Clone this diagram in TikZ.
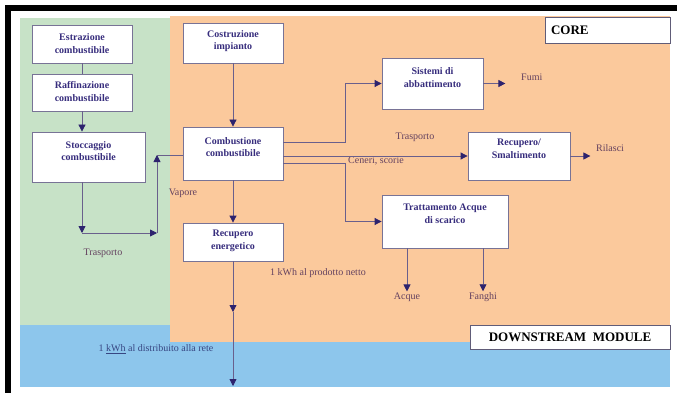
\documentclass[tikz,border=0pt]{standalone}
\usepackage{fontspec}
\setmainfont{Liberation Serif}
\usetikzlibrary{arrows.meta}
\definecolor{greenbg}{RGB}{199,226,199}
\definecolor{orangebg}{RGB}{251,201,156}
\definecolor{bluebg}{RGB}{141,198,236}
\definecolor{boxdraw}{RGB}{120,115,150}
\definecolor{linec}{RGB}{105,95,140}
\definecolor{headc}{RGB}{45,35,110}
\definecolor{boxtext}{RGB}{55,45,125}
\definecolor{labtext}{RGB}{100,65,95}
\definecolor{bluetext}{RGB}{55,70,130}
\tikzset{
  box/.style={draw=boxdraw, fill=white, line width=0.8pt, rectangle, inner sep=0pt},
  btext/.style={text=boxtext, align=center, inner sep=0pt, font=\fontsize{10}{12.5}\selectfont\bfseries},
  lab/.style={text=labtext, inner sep=1pt, font=\fontsize{10}{12}\selectfont},
  tagbox/.style={draw=boxdraw!80!black, fill=white, line width=0.8pt, inner sep=0pt, font=\fontsize{13}{15}\selectfont\bfseries},
  conn/.style={draw=linec, line width=0.8pt},
  arr/.style={conn, -{Triangle[length=7pt,width=7pt,color=headc]}},
}
\begin{document}
\begin{tikzpicture}[x=1pt,y=-1pt]
\useasboundingbox (0,0) rectangle (677,393);
\fill[white] (0,0) rectangle (677,393);
% frame bars
\fill[black] (5,5) rectangle (677,11);
\fill[black] (5,5) rectangle (11,393);
% regions
\fill[bluebg] (20,325) rectangle (670,387);
\fill[greenbg] (20,18) rectangle (170,325);
\fill[orangebg] (170,16) rectangle (670,342);

% boxes
\node[box, minimum width=100, minimum height=38] (estr) at (82,44) {};
\node[btext] (estrT) at (82,43.5) {Estrazione\\combustibile};
\node[box, minimum width=100, minimum height=37] (raff) at (82,92.5) {};
\node[btext] (raffT) at (82,91.5) {Raffinazione\\combustibile};
\node[box, minimum width=113, minimum height=50] (stocc) at (88.5,157) {};
\node[btext] (stoccT) at (88.5,151) {Stoccaggio\\combustibile};
\node[box, minimum width=100, minimum height=40] (costr) at (233,43) {};
\node[btext] (costrT) at (233,41) {Costruzione\\impianto};
\node[box, minimum width=100, minimum height=53] (comb) at (233,153.5) {};
\node[btext] (combT) at (233,147) {Combustione\\combustibile};
\node[box, minimum width=100, minimum height=38] (recen) at (233,242) {};
\node[btext] (recenT) at (233,241) {Recupero\\energetico};
\node[box, minimum width=101, minimum height=51] (sist) at (432.5,83.5) {};
\node[btext] (sistT) at (432.5,77.5) {Sistemi di\\abbattimento};
\node[box, minimum width=102, minimum height=48] (recsm) at (519,156) {};
\node[btext] (recsmT) at (519,149) {Recupero/\\Smaltimento};
\node[box, minimum width=126, minimum height=53] (tratt) at (445,221.5) {};
\node[btext] (trattT) at (445,213.5) {Trattamento Acque\\di scarico};

% tags
\node[tagbox, minimum width=125, minimum height=26, text width=113, align=left] (core) at (607.5,30) {CORE};
\node[tagbox, minimum width=200, minimum height=24] (down) at (570,337) {DOWNSTREAM\ \ MODULE};

% labels
\node[lab] (vap) at (183,193) {Vapore};
\node[lab] (trasL) at (103,253) {Trasporto};
\node[lab] (trasR) at (415,137) {Trasporto};
\node[lab] (cen) at (376,161) {Ceneri, scorie};
\node[lab] (kwh1) at (318,273) {1 kWh al prodotto netto};
\node[lab, text=bluetext] (kwh2) at (156,349) {1 \underline{kWh} al distribuito alla rete};
\node[lab, anchor=west] (fumi) at (520,77) {Fumi};
\node[lab, anchor=west] (ril) at (595,148) {Rilasci};
\node[lab] (acq) at (407,297) {Acque};
\node[lab] (fan) at (483,297) {Fanghi};

% coordinates
\coordinate (c1) at (82,233);
\coordinate (c2) at (157,233);
\coordinate (c3) at (157,155);
\coordinate (c4) at (233,312);
\coordinate (c5) at (233,386);

% connectors
\draw[conn] (estr.south) -- (raff.north);
\draw[arr] (raff.south) -- (raff.south |- stocc.north);
\draw[arr] (stocc.south -| c1) -- (c1);
\draw[arr] (c1) -- (c2);
\draw[arr] (c2) -- (c3);
\draw[conn] (c3) -- (c3 -| comb.west);
\draw[arr] (costr.south) -- (comb.north);
\draw[arr] (comb.south) -- (recen.north);
\draw[arr] (recen.south) -- (c4);
\draw[arr] (c4) -- (c5);
\draw[arr] ([yshift=11.5pt]comb.east) -- ++(62,0) |- (sist.west);
\draw[arr] (comb.east |- recsm.west) -- (recsm.west);
\draw[arr] ([yshift=-9.5pt]comb.east) -- ++(62,0) |- (tratt.west);
\draw[arr] (sist.east) -- ++(22,0);
\draw[arr] (recsm.east) -- ++(20,0);
\draw[arr] (tratt.south -| acq.north) -- (acq.north);
\draw[arr] (tratt.south -| fan.north) -- (fan.north);
\end{tikzpicture}
\end{document}
